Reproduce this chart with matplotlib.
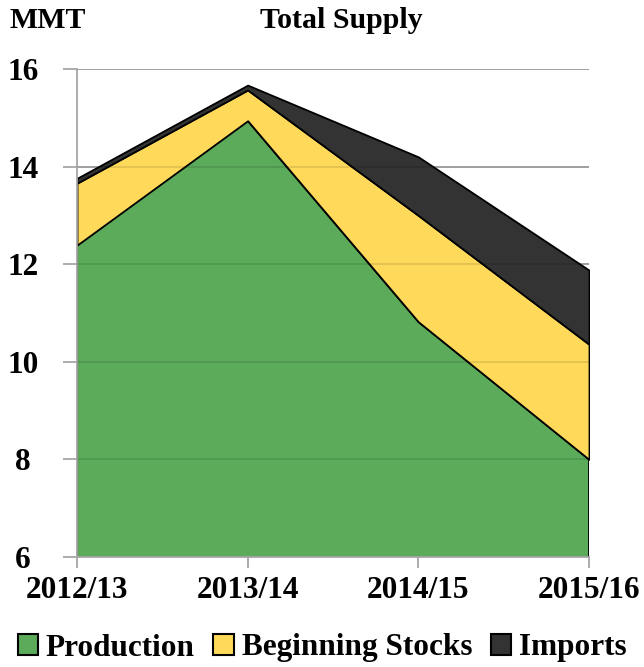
import matplotlib.pyplot as plt
from matplotlib.patches import Patch

# data (MMT)
years = ['2012/13', '2013/14', '2014/15', '2015/16']
production = [12.39, 14.94, 10.82, 8.00]
beginning_stocks = [1.27, 0.63, 2.18, 2.36]
imports = [0.10, 0.10, 1.20, 1.52]

labels = ['Production', 'Beginning Stocks', 'Imports']
colors = ['#5bab5b', '#ffda5a', '#333333']

plt.rcParams['font.family'] = ['Liberation Serif', 'DejaVu Serif']
plt.rcParams['font.weight'] = 'bold'

fig = plt.figure(figsize=(6.44, 6.67), dpi=100)
ax = fig.add_axes([77 / 644, 1 - 557 / 667, (589 - 77) / 644, (557 - 69) / 667])

x = list(range(len(years)))
ax.stackplot(x, production, beginning_stocks, imports, colors=colors,
             edgecolor='black', linewidth=1.3, zorder=2)

ax.set_xlim(0, 3)
ax.set_ylim(6, 16)
yt = [6, 8, 10, 12, 14, 16]
ax.set_yticks(yt)
ax.set_xticks(x)
ax.set_xticklabels(years)
ax.yaxis.grid(True, color='#a6a6a6', linewidth=1.2)
ax.set_axisbelow(True)
# faint grid over the filled areas
for v in yt[1:]:
    ax.axhline(v, color='black', alpha=0.12, linewidth=1.2, zorder=2.5)

for s in ['top', 'right']:
    ax.spines[s].set_visible(False)
for s in ['left', 'bottom']:
    ax.spines[s].set_color('#a6a6a6')
    ax.spines[s].set_linewidth(1.3)
    ax.spines[s].set_zorder(3)

ax.tick_params(axis='both', colors='#a6a6a6', width=1.3, labelcolor='black', labelsize=22.5)
ax.tick_params(axis='x', length=8, pad=6)
ax.tick_params(axis='y', length=10, pad=29)
for lab in ax.get_yticklabels():
    lab.set_horizontalalignment('center')
for lab in ax.get_xticklabels() + ax.get_yticklabels():
    lab.set_fontweight('bold')

fig.text(10 / 644, 1 - 21 / 667, 'MMT', fontsize=21.5, fontweight='bold', va='center', ha='left')
fig.text(341 / 644, 1 - 21 / 667, 'Total Supply', fontsize=21.5, fontweight='bold', va='center', ha='center')

handles = [Patch(facecolor=c, edgecolor='black', linewidth=1.5) for c in colors]
fig.legend(handles, labels, loc='center', bbox_to_anchor=(0.5, 1 - 648 / 667), ncol=3,
           frameon=False, handlelength=0.65, handleheight=0.65,
           handletextpad=0.25, columnspacing=0.6, prop={'weight': 'bold', 'size': 22.5})

fig.savefig('out.png', dpi=100)
